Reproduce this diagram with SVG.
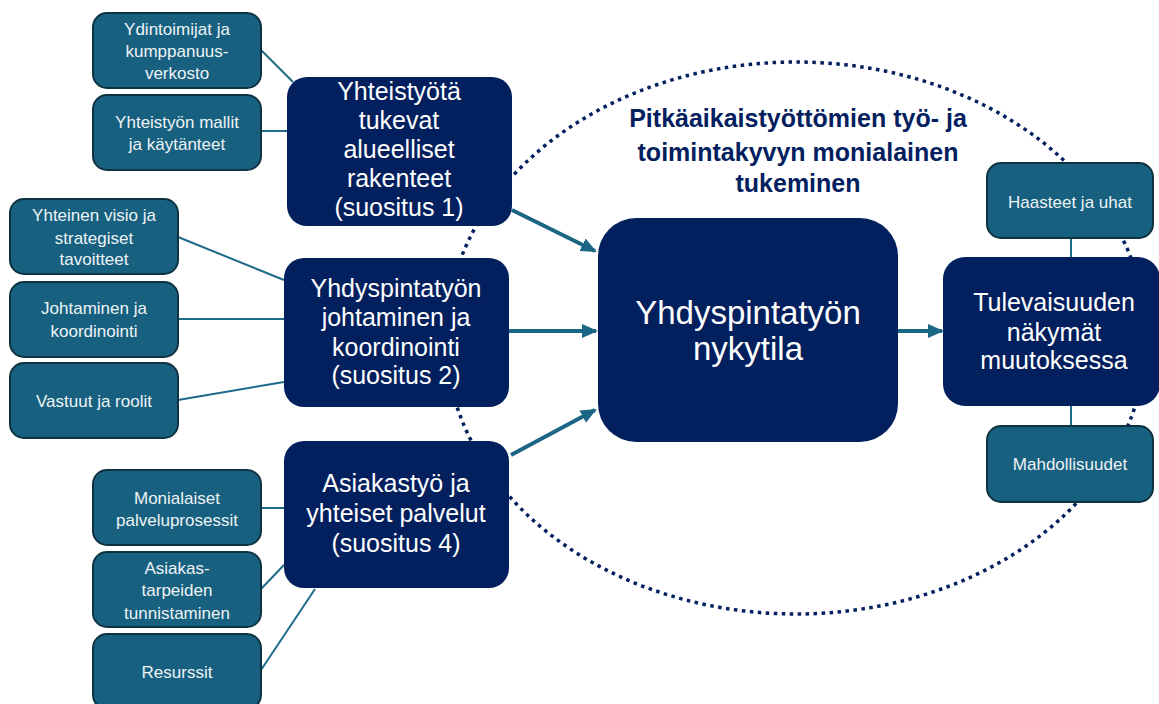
<svg xmlns="http://www.w3.org/2000/svg" width="1159" height="704" viewBox="0 0 1159 704">
<defs>
<marker id="ah" markerUnits="userSpaceOnUse" markerWidth="16" markerHeight="14" refX="14" refY="7" orient="auto">
<path d="M0,0 L16,7 L0,14 Z" fill="#1b6685"/>
</marker>
<style>
.main{fill:#02205e;}
.sub{fill:#17607f;stroke:#0e3340;stroke-width:2;}
.ln{stroke:#1f6a8a;stroke-width:2;fill:none;}
.arr{stroke:#1b6685;stroke-width:4;fill:none;marker-end:url(#ah);}
.t{font-family:"Liberation Sans",Arial,sans-serif;fill:#ffffff;text-anchor:middle;}
.ts{font-family:"Liberation Sans",Arial,sans-serif;fill:#eef3f6;text-anchor:middle;font-size:17px;}
.ttl{font-family:"Liberation Sans",Arial,sans-serif;fill:#02205e;text-anchor:middle;font-weight:bold;font-size:25px;}
</style>
</defs>
<rect width="1159" height="704" fill="#ffffff"/>
<ellipse cx="796" cy="338" rx="350" ry="276" fill="none" stroke="#02205e" stroke-width="3.5" stroke-dasharray="3.5 4.5"/>
<g id="title">
<text class="ttl" x="798" y="127">Pitkäaikaistyöttömien työ- ja</text>
<text class="ttl" x="798" y="161">toimintakyvyn monialainen</text>
<text class="ttl" x="798" y="192">tukeminen</text>
</g>
<g id="connectors">
<line class="ln" x1="261" y1="50" x2="293" y2="82"/>
<line class="ln" x1="261" y1="131" x2="287" y2="131"/>
<line class="ln" x1="178" y1="237" x2="284" y2="280"/>
<line class="ln" x1="178" y1="319" x2="284" y2="319"/>
<line class="ln" x1="178" y1="400" x2="284" y2="382"/>
<line class="ln" x1="261" y1="508" x2="284" y2="508"/>
<line class="ln" x1="261" y1="589" x2="284" y2="565"/>
<line class="ln" x1="261" y1="670" x2="315" y2="589"/>
<line class="ln" x1="1071" y1="238" x2="1071" y2="257"/>
<line class="ln" x1="1071" y1="406" x2="1071" y2="426"/>
<line class="arr" x1="512" y1="210" x2="595" y2="251"/>
<line class="arr" x1="509" y1="331" x2="596" y2="331"/>
<line class="arr" x1="511" y1="455" x2="595" y2="410"/>
<line class="arr" x1="898" y1="331" x2="942" y2="331"/>
</g>
<g id="n-ydintoimijat">
<rect class="sub" x="93" y="13" width="168" height="75" rx="14"/>
<text class="ts" x="177" y="35">Ydintoimijat ja</text>
<text class="ts" x="177" y="57">kumppanuus-</text>
<text class="ts" x="177" y="79">verkosto</text>
</g>
<g id="n-mallit">
<rect class="sub" x="93" y="95" width="168" height="75" rx="14"/>
<text class="ts" x="177" y="128">Yhteistyön mallit</text>
<text class="ts" x="177" y="150">ja käytänteet</text>
</g>
<g id="n-visio">
<rect class="sub" x="10" y="199" width="168" height="75" rx="14"/>
<text class="ts" x="94" y="221">Yhteinen visio ja</text>
<text class="ts" x="94" y="244">strategiset</text>
<text class="ts" x="94" y="265">tavoitteet</text>
</g>
<g id="n-johtaminen">
<rect class="sub" x="10" y="282" width="168" height="75" rx="14"/>
<text class="ts" x="94" y="314">Johtaminen ja</text>
<text class="ts" x="94" y="337">koordinointi</text>
</g>
<g id="n-vastuut">
<rect class="sub" x="10" y="363" width="168" height="75" rx="14"/>
<text class="ts" x="94" y="407">Vastuut ja roolit</text>
</g>
<g id="n-monialaiset">
<rect class="sub" x="93" y="470" width="168" height="75" rx="14"/>
<text class="ts" x="177" y="504">Monialaiset</text>
<text class="ts" x="177" y="526">palveluprosessit</text>
</g>
<g id="n-asiakastarpeet">
<rect class="sub" x="93" y="552" width="168" height="75" rx="14"/>
<text class="ts" x="177" y="574">Asiakas-</text>
<text class="ts" x="177" y="596">tarpeiden</text>
<text class="ts" x="177" y="619">tunnistaminen</text>
</g>
<g id="n-resurssit">
<rect class="sub" x="93" y="634" width="168" height="75" rx="14"/>
<text class="ts" x="177" y="678">Resurssit</text>
</g>
<g id="n-suositus1">
<rect class="main" x="287" y="77" width="225" height="149" rx="20"/>
<text class="t" x="399" y="100" font-size="25">Yhteistyötä</text>
<text class="t" x="399" y="129" font-size="25">tukevat</text>
<text class="t" x="399" y="158" font-size="25">alueelliset</text>
<text class="t" x="399" y="187" font-size="25">rakenteet</text>
<text class="t" x="399" y="216" font-size="25">(suositus 1)</text>
</g>
<g id="n-suositus2">
<rect class="main" x="284" y="258" width="225" height="149" rx="20"/>
<text class="t" x="396" y="297" font-size="25">Yhdyspintatyön</text>
<text class="t" x="396" y="326" font-size="25">johtaminen ja</text>
<text class="t" x="396" y="356" font-size="25">koordinointi</text>
<text class="t" x="396" y="384" font-size="25">(suositus 2)</text>
</g>
<g id="n-suositus4">
<rect class="main" x="284" y="441" width="225" height="147" rx="20"/>
<text class="t" x="396" y="492" font-size="25">Asiakastyö ja</text>
<text class="t" x="396" y="522" font-size="25">yhteiset palvelut</text>
<text class="t" x="396" y="552" font-size="25">(suositus 4)</text>
</g>
<g id="n-nykytila">
<rect class="main" x="598" y="218" width="300" height="224" rx="38"/>
<text class="t" x="748" y="324" font-size="33">Yhdyspintatyön</text>
<text class="t" x="748" y="360" font-size="33">nykytila</text>
</g>
<g id="n-tulevaisuus">
<rect class="main" x="943" y="257" width="217" height="149" rx="22"/>
<text class="t" x="1054" y="311" font-size="25">Tulevaisuuden</text>
<text class="t" x="1054" y="341" font-size="25">näkymät</text>
<text class="t" x="1054" y="369" font-size="25">muutoksessa</text>
</g>
<g id="n-haasteet">
<rect class="sub" x="987" y="163" width="166" height="75" rx="14"/>
<text class="ts" x="1070" y="208" font-size="17">Haasteet ja uhat</text>
</g>
<g id="n-mahdollisuudet">
<rect class="sub" x="987" y="426" width="166" height="76" rx="14"/>
<text class="ts" x="1070" y="470" font-size="18">Mahdollisuudet</text>
</g>
</svg>
